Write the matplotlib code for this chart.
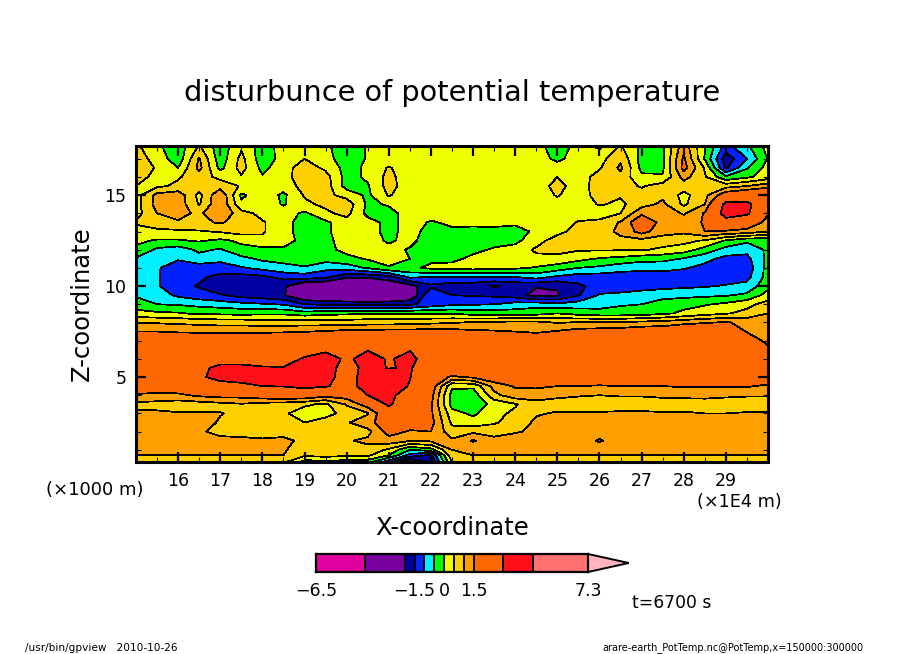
import matplotlib
matplotlib.use('Agg')
import matplotlib.pyplot as plt
import numpy as np

# x in 1E4 m, z in km
x_pos = [15.0 + 0.5 * i for i in range(31)]
z_pos = [17.7, 17, 16.5, 16, 15.5, 15, 14.5, 14, 13.5, 13, 12.5, 12, 11.5, 11, 10.5, 10, 9.5, 9,
         8.5, 8, 7.5, 7, 6, 5.5, 5, 4.5, 4, 3.5, 3, 2.5, 2, 1.5, 1, 0.7, 0.33]

levels = [-6.5, -4, -2, -1.5, -1, -0.5, 0, 0.5, 1, 1.5, 3, 4.5, 7.3]
colors = ['#e000a0', '#7800a0', '#0000a0', '#0020ff', '#00f0ff', '#00ff00', '#f0ff00',
          '#ffd000', '#ffa000', '#ff6800', '#ff1018', '#ff7070']
over_color = '#ffb4c0'

theta = [
    [.6,.1,-.3,.55,-.3,.4,-.25,.2,.2,.1,-.3,.05,-.03,.2,.2,.2, .2,.2,.2,.2,-.3,.2,-.1,.55,-.1,-.1,1.3,.05,-1.2,-.6,.2],
    [.75,.3,-.3,1.05,-.3,.65,-.3,.2,.5,.2,-.3,.05,.2,.2,.2,.2, .2,.2,.2,.2,-.1,.2,.3,.9,-.2,-.1,1.6,-.05,-1.8,-1.0,.05],
    [.8,.45,.0,1.15,-.15,.7,-.15,.3,.75,.4,-.2,.1,.55,.2,.2,.2, .2,.2,.2,.2,.2,.2,.45,1.1,-.15,-.1,1.7,.45,-1.6,-.55,.2],
    [.7,.35,.45,.75,.35,.45,.05,.3,.8,.7,-.2,.1,.65,.2,.2,.2, .2,.2,.2,.2,.5,.25,.7,.85,.1,.05,1.2,.55,-.4,-.1,.25],
    [.5,.4,.6,.75,.8,.45,.35,.2,.7,.75,-.2,-.05,.7,.2,.2,.2, .2,.2,.2,.2,.7,.2,.8,.7,.45,.75,.75,.7,.8,1.0,1.3],
    [.3,1.15,1.3,.35,1.45,-.1,.3,-.1,.55,.65,.3,-.1,.55,.2,.2,.2, .2,.2,.2,.2,.55,.2,.75,.55,.7,.9,.35,.85,1.9,2.2,2.4],
    [.3,1.2,1.3,.45,1.45,.1,.3,-.05,.4,.6,.8,-.1,.05,.3,.2,.2, .2,.2,.2,.2,.3,.2,.55,.4,.8,1.1,.4,1.0,3.3,3.3,1.9],
    [.3,1.0,1.15,.9,1.45,.7,.35,.25,-.1,.4,.65,-.15,-.15,.2,.2,.2, .2,.2,.2,.2,.15,.2,.2,.5,1.4,1.3,.95,1.55,3.5,3.2,1.55],
    [.55,.85,.95,.9,1.05,.8,.55,.2,-.25,-.1,.3,.2,-.15,.2,-.05,.1, .1,.1,.05,.1,.15,.55,.65,1.05,2.0,1.3,1.25,1.55,2.5,2.0,1.3],
    [.35,.35,.4,.45,.55,.7,.55,.2,-.25,-.1,.3,.2,-.15,.2,-.2,-.1, -.12,-.1,-.1,.05,.3,.75,.8,1.1,1.7,1.2,1.1,1.5,1.4,1.3,1.0],
    [.1,-.05,-.05,.05,-.1,.1,.4,.25,-.2,-.15,.25,.15,-.05,.1,-.2,-.2, -.2,-.15,-.1,.25,.8,.85,.85,.9,.85,.75,.65,.45,-.05,-.4,-.35],
    [-.1,-.6,-.75,-.4,-.55,-.15,-.15,-.1,-.1,-.15,.15,.1,.1,-.03,-.1,-.15, -.1,.05,.15,.6,.65,.55,.55,.55,.55,.4,.25,-.2,-.7,-.85,-.4],
    [-.55,-.8,-.95,-.7,-.85,-.65,-.4,-.35,-.25,-.3,-.15,.05,.2,.0,-.1,-.1, .1,.2,.25,.35,.35,.15,-.05,-.15,-.3,-.35,-.55,-.85,-1.15,-1.15,-.35],
    [-.7,-.95,-1.25,-1.25,-1.25,-1.05,-.85,-.65,-.55,-.85,-.75,-.45,-.05,-.1,.1,.15, .2,.15,.1,-.05,-.25,-.5,-.6,-.8,-.9,-.85,-.95,-1.15,-1.2,-1.3,-.3],
    [-.7,-.95,-1.35,-1.4,-1.65,-1.7,-1.6,-1.35,-1.25,-1.4,-1.9,-1.9,-1.7,-.9,-1.0,-1.0, -1.0,-1.0,-1.0,-.8,-1.1,-1.25,-1.25,-1.25,-1.2,-1.25,-1.3,-1.3,-1.3,-1.15,-.3],
    [-.65,-.95,-1.3,-1.55,-1.85,-1.9,-1.95,-1.9,-2.5,-2.6,-2.9,-2.8,-2.5,-2.2,-1.6,-1.8, -1.8,-2.05,-1.85,-1.95,-1.95,-1.6,-1.3,-1.25,-1.15,-1.15,-1.1,-1.05,-.95,-.85,-.15],
    [-.55,-.75,-1.1,-1.3,-1.45,-1.7,-1.8,-1.95,-2.6,-2.7,-2.8,-2.8,-2.7,-2.5,-1.0,-1.5, -1.55,-1.6,-1.75,-2.2,-2.05,-1.55,-.95,-.9,-.85,-.7,-.65,-.6,-.55,-.4,.2],
    [-.3,-.5,-.55,-.65,-.75,-.85,-.95,-1.05,-1.5,-1.6,-1.65,-1.7,-1.7,-1.6,-1.3,-1.1, -1.05,-1.0,-.8,-.7,-.9,-.75,-.7,-.55,-.5,-.25,-.15,-.05,.1,.35,.7],
    [.2,.1,.05,-.1,-.1,-.15,-.1,-.1,-.25,-.15,-.1,-.05,-.05,-.05,-.05,-.05, -.2,-.25,-.25,-.2,.0,-.2,-.3,-.3,-.25,-.1,.1,.3,.45,.65,1.0],
    [.95,.95,.9,.85,.8,.8,.75,.75,.75,.75,.75,.8,.8,.85,.9,.95, 1.05,1.1,1.15,1.15,.95,1.05,1.05,1.05,1.15,1.2,1.35,1.45,1.55,1.35,1.2],
    [1.5,1.5,1.45,1.42,1.4,1.4,1.42,1.45,1.48,1.55,1.65,1.65,1.7,1.7,1.7,1.7, 1.6,1.55,1.5,1.4,1.55,1.7,1.75,1.8,1.9,1.95,2.1,2.2,2.3,1.45,1.2],
    [2.0,2.0,2.0,2.0,2.0,2.0,2.0,2.0,2.1,2.1,2.1,2.5,2.1,2.6,2.1,2.1, 2.1,2.1,2.1,2.1,2.1,2.1,2.1,2.2,2.3,2.4,2.4,2.4,2.4,2.0,1.3],
    [2.3,2.4,2.4,2.4,2.5,2.5,2.5,2.6,3.1,3.5,2.8,3.4,2.9,3.3,2.4,2.4, 2.4,2.4,2.4,2.4,2.4,2.4,2.4,2.4,2.4,2.4,2.5,2.5,2.5,2.4,2.0],
    [2.3,2.4,2.4,2.7,3.3,3.3,3.1,3.05,3.6,3.4,2.6,3.3,2.95,3.1,2.2,2.2, 2.3,2.3,2.3,2.3,2.3,2.3,2.3,2.3,2.3,2.3,2.3,2.3,2.3,2.3,2.2],
    [2.1,2.2,2.3,2.8,3.4,3.5,3.4,3.5,3.8,3.3,2.6,3.4,3.7,3.05,2.0,1.4, 1.6,1.9,2.0,2.0,2.0,2.0,2.0,2.0,2.0,2.0,2.0,2.0,2.0,2.0,2.0],
    [1.8,1.8,1.9,2.1,2.5,2.7,3.0,3.05,3.3,3.1,2.6,3.4,3.8,2.9,1.9,.1, .1,1.2,1.55,1.6,1.5,1.5,1.45,1.5,1.5,1.5,1.55,1.55,1.55,1.55,1.4],
    [1.45,1.4,1.4,1.6,1.7,1.7,1.9,2.0,2.0,1.7,1.8,3.0,3.3,2.4,1.7,-.2, -.3,.85,1.3,1.2,1.1,1.05,1.0,1.05,1.05,1.1,1.1,1.15,1.1,1.05,1.05],
    [.85,.8,.7,.75,.85,.95,.8,.75,.6,.4,1.05,1.8,3.2,1.9,1.6,-.2, -.3,.15,.45,.85,.8,.7,.75,.7,.7,.75,.8,.75,.7,.7,.7],
    [1.1,1.1,1.05,1.05,1.02,.9,.75,.6,.2,.3,.7,.95,2.2,1.9,1.6,.2, -.1,.35,.6,.95,1.05,1.05,1.05,1.1,1.1,1.05,1.05,1.0,1.0,1.05,1.05],
    [1.25,1.3,1.25,1.2,.95,.9,.8,.55,.5,.75,.95,1.3,1.9,1.75,1.7,.4, .2,.45,.7,1.1,1.25,1.3,1.3,1.3,1.3,1.3,1.25,1.25,1.25,1.25,1.25],
    [1.3,1.25,1.2,1.1,.8,.7,.7,.85,.95,.9,.7,.85,1.7,1.45,1.5,.7, .9,.75,.95,1.1,1.3,1.3,1.3,1.3,1.3,1.3,1.25,1.25,1.25,1.25,1.25],
    [1.3,1.3,1.3,1.3,1.2,1.2,1.1,1.1,.9,.8,.95,1.1,1.3,1.05,1.1,1.1, 1.55,1.2,1.25,1.25,1.25,1.25,1.55,1.25,1.25,1.25,1.25,1.25,1.25,1.25,1.25],
    [1.2,1.2,1.2,1.2,1.2,1.2,1.1,1.05,.75,.5,.85,.85,.4,-.5,-.2,1.0, 1.1,1.2,1.2,1.2,1.2,1.2,1.25,1.2,1.2,1.2,1.2,1.2,1.2,1.2,1.2],
    [1.0,1.0,1.0,1.0,1.0,1.0,1.0,1.0,.6,.7,.6,.6,.0,-1.2,-1.6,.9, 1.0,1.0,1.0,1.0,1.0,1.0,1.0,1.0,1.0,1.0,1.0,1.0,1.0,1.0,1.0],
    [.7,.7,.7,.7,.7,.7,.7,.6,-.2,-.2,-.2,-.3,-1.3,-2.6,-2.0,.5, .7,.7,.7,.7,.7,.7,.7,.7,.7,.7,.7,.7,.7,.7,.7],
]

x_ticks = list(range(16, 30))
z_ticks = [5, 10, 15]
bar_ticks = [-6.5, -1.5, 0, 1.5, 7.3]
bar_labels = ['\u22126.5', '\u22121.5', '0', '1.5', '7.3']

W, H = 904, 654
fig = plt.figure(figsize=(W / 100, H / 100), dpi=100)


def px_axes(x0, y0, x1, y1):
    return fig.add_axes([x0 / W, 1 - y1 / H, (x1 - x0) / W, (y1 - y0) / H])


ax = px_axes(136, 146, 768, 462)
ax.contourf(x_pos, z_pos, theta, levels=levels, colors=colors, antialiased=False)
ax.contour(x_pos, z_pos, theta, levels=levels, colors='k', linewidths=0.55, linestyles='solid', antialiased=False)
ax.set_xlim(15, 30)
ax.set_ylim(0.33, 17.7)
ax.set_xticks(x_ticks)
ax.set_xticks(np.arange(15, 30.5, 0.5), minor=True)
ax.set_yticks(z_ticks)
ax.set_yticks(np.arange(1, 18), minor=True)
ax.tick_params(which='major', direction='in', top=True, right=True, length=7, width=1.6, labelsize=12.5, pad=7)
ax.tick_params(which='minor', direction='in', top=True, right=True, length=3.5, width=0.8)
for s in ax.spines.values():
    s.set_linewidth(2.2)

fig.text(452 / W, 1 - 93 / H, 'disturbunce of potential temperature', fontsize=20.7, ha='center', va='center')
fig.text(452 / W, 1 - 528 / H, 'X-coordinate', fontsize=17.5, ha='center', va='center')
fig.text(82 / W, 1 - 304 / H, 'Z-coordinate', fontsize=17.5, ha='center', va='center', rotation=90)
fig.text(95 / W, 1 - 490 / H, '(\u00d71000 m)', fontsize=13, ha='center', va='center')
fig.text(739 / W, 1 - 502 / H, '(\u00d71E4 m)', fontsize=12.7, ha='center', va='center')
fig.text(672 / W, 1 - 603 / H, 't=6700 s', fontsize=12.3, ha='center', va='center', color='k')
fig.text(25 / W, 1 - 648 / H, '/usr/bin/gpview   2010-10-26', fontsize=7.6, ha='left', va='center')
fig.text(864 / W, 1 - 648 / H, 'arare-earth_PotTemp.nc@PotTemp,x=150000:300000', fontsize=7, ha='right', va='center')

# colour bar, scale is linear in the level value
cax = px_axes(316, 554, 588, 572)
for i, c in enumerate(colors):
    cax.barh(0, levels[i + 1] - levels[i], left=levels[i], height=1, color=c, edgecolor='k', linewidth=1.4)
cax.set_xlim(levels[0], levels[-1])
cax.set_ylim(-0.5, 0.5)
cax.set_yticks([])
cax.set_xticks(bar_ticks)
cax.set_xticklabels(bar_labels)
cax.tick_params(axis='x', length=0, labelsize=12.5, pad=7)
for s in cax.spines.values():
    s.set_linewidth(1.6)
tip = plt.Polygon([[1, 0], [1, 1], [1.15, 0.5]], closed=True, transform=cax.transAxes,
                  facecolor=over_color, edgecolor='k', linewidth=1.4, clip_on=False)
cax.add_patch(tip)

fig.savefig('out.png', dpi=100)
